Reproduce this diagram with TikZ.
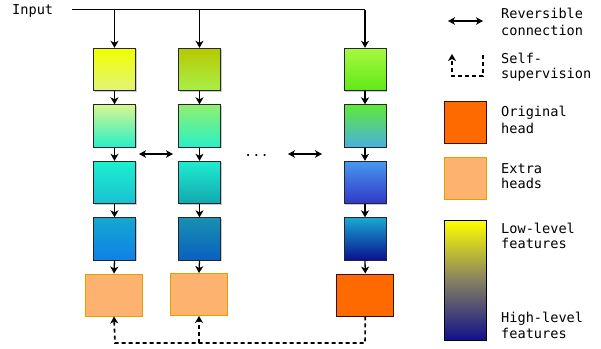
\documentclass[tikz,border=0pt]{standalone}
\usepackage{fontspec}
\setmonofont{DejaVu Sans Mono}
\usetikzlibrary{arrows.meta,shadows}
\definecolor{exfill}{HTML}{FDB36F}
\definecolor{exdraw}{HTML}{E0A000}
\definecolor{orfill}{HTML}{FF6A00}
\definecolor{ordraw}{HTML}{3A1000}
\definecolor{aat}{HTML}{F2FF00}\definecolor{aab}{HTML}{E0F47A}
\definecolor{abt}{HTML}{D8F690}\definecolor{abb}{HTML}{25F0C8}
\definecolor{act}{HTML}{1DF0D0}\definecolor{acb}{HTML}{18C0D0}
\definecolor{adt}{HTML}{15A8D0}\definecolor{adb}{HTML}{0E80E8}
\definecolor{bat}{HTML}{B8C800}\definecolor{bab}{HTML}{A8F048}
\definecolor{bbt}{HTML}{90F070}\definecolor{bbb}{HTML}{28F0C8}
\definecolor{bct}{HTML}{20ECD0}\definecolor{bcb}{HTML}{12A8B0}
\definecolor{bdt}{HTML}{1890B0}\definecolor{bdb}{HTML}{0A60C0}
\definecolor{cat}{HTML}{A8F840}\definecolor{cab}{HTML}{60E818}
\definecolor{cbt}{HTML}{60E838}\definecolor{cbb}{HTML}{48B0E0}
\definecolor{cct}{HTML}{4898F0}\definecolor{ccb}{HTML}{3038C8}
\definecolor{cdt}{HTML}{18A8D0}\definecolor{cdb}{HTML}{0A1090}
\definecolor{cbtop}{HTML}{FFFF00}\definecolor{cbmid}{HTML}{858062}\definecolor{cbbot}{HTML}{10108C}
\tikzset{
  blk/.style={draw=black!85, line width=0.9pt, minimum width=42pt, minimum height=42.5pt, inner sep=0pt,
    drop shadow={shadow xshift=1.2pt, shadow yshift=-1.2pt, fill=black!35, opacity=0.6}},
  exhead/.style={draw=exdraw, fill=exfill, line width=0.9pt, minimum width=57pt, minimum height=42pt, inner sep=0pt},
  orhead/.style={draw=ordraw, fill=orfill, line width=0.9pt, minimum width=57pt, minimum height=42pt, inner sep=0pt},
  conn/.style={line width=1.3pt, -{Stealth[length=7pt,width=8pt,inset=2pt]}},
  rev/.style={line width=1.3pt, {Stealth[length=7pt,width=7.5pt,inset=2pt]}-{Stealth[length=7pt,width=7.5pt,inset=2pt]}},
  ssup/.style={line width=1.6pt, dash pattern=on 4pt off 3pt, -{Stealth[length=7pt,width=8pt,inset=2pt]}},
  lbl/.style={font=\fontsize{13.6}{16}\selectfont\ttfamily, inner sep=0pt, anchor=base west},
  grad/.style={top color=#1t, bottom color=#1b}
}
\begin{document}
\begin{tikzpicture}[x=1pt,y=-1pt]
\useasboundingbox (0,0) rectangle (601,348);
% columns
\node[blk,grad=aa] (a1) at (114.5,69.5) {};
\node[blk,grad=ab] (a2) at (114.5,126) {};
\node[blk,grad=ac] (a3) at (114.5,182.5) {};
\node[blk,grad=ad] (a4) at (114.5,239) {};
\node[exhead] (ah) at (114,295) {};
\node[blk,grad=ba] (b1) at (199.5,69.5) {};
\node[blk,grad=bb] (b2) at (199.5,126) {};
\node[blk,grad=bc] (b3) at (199.5,182.5) {};
\node[blk,grad=bd] (b4) at (199.5,239) {};
\node[exhead] (bh) at (199,294.5) {};
\node[blk,grad=ca] (c1) at (365,69.5) {};
\node[blk,grad=cb] (c2) at (365,126) {};
\node[blk,grad=cc] (c3) at (365,182.5) {};
\node[blk,grad=cd] (c4) at (365,239) {};
\node[orhead] (ch) at (365.3,295) {};
% input
\node[lbl] (inp) at (12,14.5) {Input};
\coordinate (in0) at (72,9.5);
\coordinate (inA) at (114.5,9.5);
\coordinate (inB) at (199.5,9.5);
\coordinate (inC) at (365,9.5);
\draw[line width=1.3pt] (in0) -- (inC);
\draw[conn] (inA) -- (a1.north);
\draw[conn] (inB) -- (b1.north);
\draw[conn] (inC) -- (c1.north);
\foreach \c in {a,b,c}{
  \draw[conn] (\c1.south) -- (\c2.north);
  \draw[conn] (\c2.south) -- (\c3.north);
  \draw[conn] (\c3.south) -- (\c4.north);
  \draw[conn] (\c4.south) -- (\c h.north);
}
% reversible connections
\coordinate (r1a) at (139,154);
\coordinate (r1b) at (173,154);
\coordinate (r2a) at (288,154);
\coordinate (r2b) at (322,154);
\draw[rev] (r1a) -- (r1b);
\draw[rev] (r2a) -- (r2b);
\node[font=\fontsize{13.6}{16}\selectfont\ttfamily, inner sep=0pt, anchor=base] (dots) at (256.5,156) {...};
% self-supervision
\coordinate (d1) at (365,343);
\coordinate (d2) at (115,343);
\coordinate (d3) at (199,343);
\draw[ssup] (ch.south) -- (d1) -- (d2) -- (ah.south);
\draw[ssup] (d3) -- (bh.south);
% legend
\coordinate (l1a) at (448,21);
\coordinate (l1b) at (483,21);
\draw[rev] (l1a) -- (l1b);
\node[lbl] (t1) at (501,18.3) {Reversible};
\node[lbl] (t2) at (501,35) {connection};
\coordinate (s1) at (483,55);
\coordinate (s2) at (483,76);
\coordinate (s3) at (452,76);
\coordinate (s4) at (452,54);
\draw[ssup] (s1) -- (s2) -- (s3) -- (s4);
\node[lbl] (t3) at (501,63.3) {Self-};
\node[lbl] (t4) at (501,78.5) {supervision};
\node[orhead, minimum width=42.5pt, minimum height=42.5pt] (lo) at (465.3,122.3) {};
\node[lbl] (t5) at (501,116.7) {Original};
\node[lbl] (t6) at (501,133) {head};
\node[exhead, minimum width=42.5pt, minimum height=42pt] (le) at (465.3,178) {};
\node[lbl] (t7) at (501,173) {Extra};
\node[lbl] (t8) at (501,188.5) {heads};
\node[draw=black, line width=0.9pt, minimum width=42.5pt, minimum height=120.5pt, inner sep=0pt,
  top color=cbtop, bottom color=cbbot, middle color=cbmid] (cb) at (465.3,280.4) {};
\node[lbl] (t9) at (501,233) {Low-level};
\node[lbl] (t10) at (501,248.5) {features};
\node[lbl] (t11) at (501,322) {High-level};
\node[lbl] (t12) at (501,338) {features};
\end{tikzpicture}
\end{document}
